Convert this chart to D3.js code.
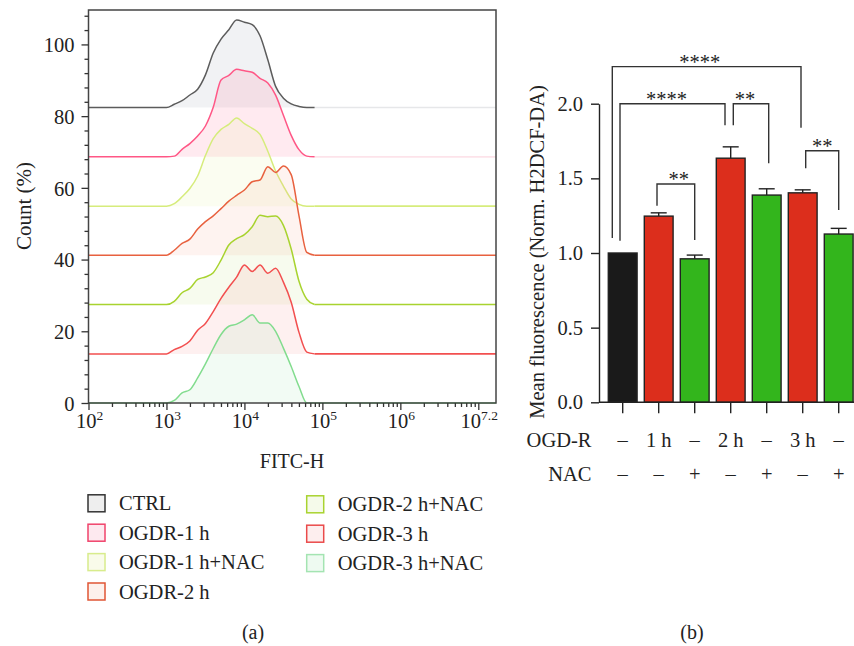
<!DOCTYPE html>
<html>
<head>
<meta charset="utf-8">
<title>ROS flow cytometry</title>
<script src="https://d3js.org/d3.v7.min.js"></script>
<style>
  body { margin: 0; background: #fff; }
  svg text { font-family: "Liberation Serif", "DejaVu Serif", serif; fill: #222; }
</style>
</head>
<body>
<div id="chart"></div>
<script>
// ---- panel (a): histogram data, log10(FITC-H) sample positions ----
const logFITC = [3.0, 3.1, 3.2, 3.3, 3.4, 3.5, 3.6, 3.7, 3.8, 3.9, 4.0, 4.1, 4.2, 4.3, 4.4, 4.5, 4.6, 4.7, 4.8, 4.9, 5.0];
const histCTRL   = [0, 0.9, 1.9, 3.5, 5.1, 9.1, 15.2, 19.1, 21.7, 24.4, 23.8, 23.1, 20.0, 13.3, 5.9, 2.6, 1.0, 0.3, 0, 0, 0];
const hist1h     = [0, 0.2, 2.1, 3.7, 5.8, 8.6, 13.8, 21.4, 22.7, 24.4, 24.0, 23.6, 21.9, 20.6, 17.2, 11.6, 6.0, 2.0, 0.2, 0, 0];
const hist1hNAC  = [0, 0.7, 2.6, 4.9, 8.4, 14.1, 18.8, 21.4, 22.8, 24.6, 23.0, 21.7, 20.0, 15.3, 9.8, 5.6, 2.0, 0.5, 0, 0, 0];
const hist2h     = [0, 1.4, 3.3, 4.5, 7.3, 9.4, 11.0, 13.0, 15.1, 16.7, 18.2, 20.5, 21.0, 24.7, 23.1, 24.9, 22.5, 11.0, 0.8, 0, 0];
const hist2hNAC  = [0, 0.9, 3.3, 4.5, 7.0, 7.7, 8.9, 12.4, 16.6, 18.4, 19.5, 21.7, 24.9, 24.5, 24.7, 22.1, 15.5, 6.5, 1.5, 0, 0];
const hist3h     = [0, 1.2, 2.1, 3.6, 6.6, 8.5, 11.8, 15.5, 18.6, 21.4, 24.8, 23.0, 24.8, 22.5, 23.9, 20.0, 14.4, 6.0, 0.5, 0, 0];
const hist3hNAC  = [0, 0.7, 2.8, 3.7, 7.0, 10.9, 15.2, 19.1, 21.4, 22.0, 23.2, 24.6, 22.3, 22.3, 20.0, 15.3, 10.2, 4.6, 0, 0, 0];
const histNames  = ["CTRL", "OGDR-1 h", "OGDR-1 h+NAC", "OGDR-2 h", "OGDR-2 h+NAC", "OGDR-3 h", "OGDR-3 h+NAC"];
const histOffset = [82.4, 68.65, 54.9, 41.2, 27.45, 13.7, 0];
const countTicks = [0, 20, 40, 60, 80, 100];
const decadeTicks = [2, 3, 4, 5, 6, 7];
const decadeLabels = ["2", "3", "4", "5", "6", "7.2"];

// ---- panel (b): bar data ----
const groups   = ["CTRL", "1h", "1hNAC", "2h", "2hNAC", "3h", "3hNAC"];
const meanFluo = [1.0, 1.247, 0.961, 1.635, 1.388, 1.403, 1.127];
const errFluo  = [0, 0.022, 0.025, 0.076, 0.042, 0.02, 0.038];
const ogdrRow  = ["–", "1 h", "–", "2 h", "–", "3 h", "–"];
const nacRow   = ["–", "–", "+", "–", "+", "–", "+"];
const fluoTicks = [0, 0.5, 1.0, 1.5, 2.0];
// brackets: [left group, right group, top level, left leg end, right leg end, label]
const sigBrackets = [
  ["CTRL", "3h", 2.248, 1.10, 1.839, "****"],
  ["CTRL", "2h", 2.0, 1.082, 1.855, "****"],
  ["2h", "2hNAC", 2.0, 1.855, 1.601, "**"],
  ["1h", "1hNAC", 1.462, 1.317, 1.087, "**"],
  ["3h", "3hNAC", 1.685, 1.567, 1.288, "**"]
];

const histStyle = [
  { line: "#5c5c5c", tail: "#e6e7e9", fill: "#8b96a3", op: 0.12 },
  { line: "#ff5786", tail: "#fde3ea", fill: "#ff6f9a", op: 0.15 },
  { line: "#d6ec7c", tail: "#d6ec7c", fill: "#e3ef9a", op: 0.14 },
  { line: "#e8613f", tail: "#e8613f", fill: "#f9a58e", op: 0.13 },
  { line: "#a8d32f", tail: "#a8d32f", fill: "#c6e48a", op: 0.15 },
  { line: "#f24f4f", tail: "#f24f4f", fill: "#fb9a9a", op: 0.15 },
  { line: "#82dc8e", tail: "#82dc8e", fill: "#a6e6b4", op: 0.15 }
];
const legendSwatch = [
  { stroke: "#333", fill: "#eeeeee" },
  { stroke: "#f0436b", fill: "#fde9ef" },
  { stroke: "#d8ec8c", fill: "#f9fbea" },
  { stroke: "#e05535", fill: "#fdf1ec" },
  { stroke: "#a9d330", fill: "#f5faea" },
  { stroke: "#ea4a4a", fill: "#fdeeee" },
  { stroke: "#a4e4b2", fill: "#eefaf1" }
];
const barColor = ["#1a1a1a", "#dc2e1c", "#33b51c", "#dc2e1c", "#33b51c", "#dc2e1c", "#33b51c"];

const W = 854, H = 646;
const svg = d3.select("#chart").append("svg").attr("width", W).attr("height", H)
  .attr("font-family", "Liberation Serif, DejaVu Serif, serif");

// ================= panel (a) =================
const xH = d3.scaleLog().domain([1e2, Math.pow(10, 7.227)]).range([88.5, 496]);
const yH = d3.scaleLinear().domain([0, 109.6]).range([403, 10]);
const histSeries = [histCTRL, hist1h, hist1hNAC, hist2h, hist2hNAC, hist3h, hist3hNAC];

const gA = svg.append("g");
const area = d3.area().x(d => xH(d.v)).y0(d => yH(d.base)).y1(d => yH(d.base + d.h)).curve(d3.curveMonotoneX);
const line = d3.line().x(d => xH(d.v)).y(d => yH(d.base + d.h)).curve(d3.curveMonotoneX);

histSeries.forEach((vals, i) => {
  const base = histOffset[i];
  const st = histStyle[i];
  const pts = logFITC.map((L, j) => ({ v: Math.pow(10, L), h: vals[j], base }));
  const main = [{ v: 1e2, h: 0, base }].concat(pts.filter(p => p.v <= Math.pow(10, 4.9) + 1));
  // tail to the right edge
  gA.append("line")
    .attr("x1", xH(Math.pow(10, 4.9))).attr("x2", xH.range()[1])
    .attr("y1", yH(base)).attr("y2", yH(base))
    .attr("stroke", st.tail).attr("stroke-width", 1.6);
  gA.append("path").datum(pts).attr("d", area)
    .attr("fill", st.fill).attr("fill-opacity", st.op).attr("stroke", "none");
  gA.append("path").datum(main).attr("d", line)
    .attr("fill", "none").attr("stroke", st.line).attr("stroke-width", 1.5);
});

// frame
gA.append("rect").attr("x", 88.5).attr("y", 10).attr("width", 496 - 88.5).attr("height", 403 - 10)
  .attr("fill", "none").attr("stroke", "#444").attr("stroke-width", 1.5);

// y axis (Count %)
const yMinor = d3.range(0, 110, 4).filter(v => v % 20 !== 0);
gA.append("g").attr("transform", "translate(88.5,0)")
  .call(d3.axisLeft(yH).tickValues(yMinor).tickSize(4).tickFormat(""))
  .call(g => g.select(".domain").remove());
gA.append("g").attr("transform", "translate(88.5,0)")
  .call(d3.axisLeft(yH).tickValues(countTicks).tickSize(7).tickPadding(7))
  .call(g => g.select(".domain").remove())
  .call(g => g.selectAll("text").style("font-size", "20.5px").attr("dy", "0.35em"));
gA.selectAll(".tick line").attr("stroke", "#333").attr("stroke-width", 1.3);

// x axis (FITC-H)
const xMinor = [];
decadeTicks.slice(0, 5).forEach(d => { for (let k = 2; k <= 9; k++) xMinor.push(k * Math.pow(10, d)); });
const xMajor = decadeTicks.map(d => Math.pow(10, d));
const gx = gA.append("g").attr("transform", "translate(0,403)");
gx.append("g").call(d3.axisBottom(xH).tickValues(xMinor).tickSize(4).tickFormat(""))
  .call(g => g.select(".domain").remove());
gx.append("g").call(d3.axisBottom(xH).tickValues(xMajor).tickSize(7).tickFormat(""))
  .call(g => g.select(".domain").remove());
gx.selectAll(".tick line").attr("stroke", "#333").attr("stroke-width", 1.3);
xMajor.forEach((v, i) => {
  const t = gA.append("text").attr("x", xH(v) + 1).attr("y", 428).attr("text-anchor", "middle")
    .style("font-size", "20.5px");
  t.append("tspan").text("10");
  t.append("tspan").attr("dy", -8).style("font-size", "13.5px").text(decadeLabels[i]);
});

gA.append("text").attr("x", 292).attr("y", 468).attr("text-anchor", "middle")
  .style("font-size", "20px").text("FITC-H");
gA.append("text").attr("transform", "translate(31,206) rotate(-90)").attr("text-anchor", "middle")
  .style("font-size", "21px").text("Count (%)");

// legend
const legend = gA.selectAll(".legend").data(histNames).enter().append("g")
  .attr("class", "legend")
  .attr("transform", (d, i) => i < 4
    ? `translate(88,${503.3 + i * 29.4})`
    : `translate(306.7,${504.3 + (i - 4) * 29.4})`);
legend.append("rect").attr("x", 0).attr("y", -8.5).attr("width", 17).attr("height", 17)
  .attr("fill", (d, i) => legendSwatch[i].fill)
  .attr("stroke", (d, i) => legendSwatch[i].stroke).attr("stroke-width", 1.5);
legend.append("text").attr("x", 31).attr("y", 7).style("font-size", "20.5px").text(d => d);

svg.append("text").attr("x", 253).attr("y", 639).attr("text-anchor", "middle")
  .style("font-size", "20px").text("(a)");

// ================= panel (b) =================
const xB = d3.scaleBand().domain(groups).range([608.3, 853.1]).paddingInner(0.2).paddingOuter(0);
const yB = d3.scaleLinear().domain([0, 2]).range([402.3, 103.7]);
const cx = g => xB(g) + xB.bandwidth() / 2;
const gB = svg.append("g");

gB.selectAll(".bar").data(groups).enter().append("rect")
  .attr("class", "bar")
  .attr("x", d => xB(d)).attr("width", xB.bandwidth())
  .attr("y", (d, i) => yB(meanFluo[i]))
  .attr("height", (d, i) => yB(0) - yB(meanFluo[i]))
  .attr("fill", (d, i) => barColor[i])
  .attr("stroke", "#222").attr("stroke-width", 1.4);

// error bars
groups.forEach((g, i) => {
  if (!errFluo[i]) return;
  const top = yB(meanFluo[i] + errFluo[i]);
  gB.append("line").attr("x1", cx(g)).attr("x2", cx(g))
    .attr("y1", yB(meanFluo[i])).attr("y2", top).attr("stroke", "#222").attr("stroke-width", 1.4);
  gB.append("line").attr("x1", cx(g) - 8).attr("x2", cx(g) + 8)
    .attr("y1", top).attr("y2", top).attr("stroke", "#222").attr("stroke-width", 1.4);
});

// y axis
gB.append("g").attr("transform", "translate(599,0)")
  .call(d3.axisLeft(yB).tickValues(fluoTicks).tickFormat(d3.format(".1f")).tickSize(8).tickSizeOuter(0).tickPadding(8))
  .call(g => g.select(".domain").attr("stroke", "#222").attr("stroke-width", 1.4))
  .call(g => g.selectAll(".tick line").attr("stroke", "#222").attr("stroke-width", 1.4))
  .call(g => g.selectAll("text").style("font-size", "20.5px"));

// x axis
gB.append("line").attr("x1", 599).attr("x2", 854).attr("y1", yB(0)).attr("y2", yB(0))
  .attr("stroke", "#222").attr("stroke-width", 1.4);
gB.selectAll(".xtick").data(groups).enter().append("line")
  .attr("x1", d => cx(d)).attr("x2", d => cx(d))
  .attr("y1", yB(0)).attr("y2", yB(0) + 11)
  .attr("stroke", "#222").attr("stroke-width", 1.4);

// condition rows
gB.append("text").attr("x", 591.5).attr("y", 447).attr("text-anchor", "end").style("font-size", "20.5px").text("OGD-R");
gB.append("text").attr("x", 591.5).attr("y", 481).attr("text-anchor", "end").style("font-size", "20.5px").text("NAC");
gB.selectAll(".ogdr").data(ogdrRow).enter().append("text")
  .attr("x", (d, i) => cx(groups[i])).attr("y", 447).attr("text-anchor", "middle")
  .style("font-size", "20.5px").text(d => d);
gB.selectAll(".nac").data(nacRow).enter().append("text")
  .attr("x", (d, i) => cx(groups[i])).attr("y", 481).attr("text-anchor", "middle")
  .style("font-size", "20.5px").text(d => d);

// significance brackets
const legNudge = [[-10.4, -1.7, -7], [-2.7, -5.7, -6], [2.6, 2, -6], [-1.7, 0, 3], [3, 0, 0]];
sigBrackets.forEach((b, i) => {
  const [g1, g2, top, l1, l2, lab] = b;
  const x1 = cx(g1) + legNudge[i][0], x2 = cx(g2) + legNudge[i][1];
  gB.append("path")
    .attr("d", `M${x1},${yB(l1)}V${yB(top)}H${x2}V${yB(l2)}`)
    .attr("fill", "none").attr("stroke", "#333").attr("stroke-width", 1.4);
  gB.append("text").attr("x", (x1 + x2) / 2 + legNudge[i][2]).attr("y", yB(top) + 2)
    .attr("text-anchor", "middle").style("font-size", "20.5px").text(lab);
});

gB.append("text").attr("transform", "translate(544,252) rotate(-90)").attr("text-anchor", "middle")
  .style("font-size", "20.5px").text("Mean fluorescence (Norm. H2DCF-DA)");

svg.append("text").attr("x", 692).attr("y", 639).attr("text-anchor", "middle")
  .style("font-size", "20px").text("(b)");
</script>
</body>
</html>
